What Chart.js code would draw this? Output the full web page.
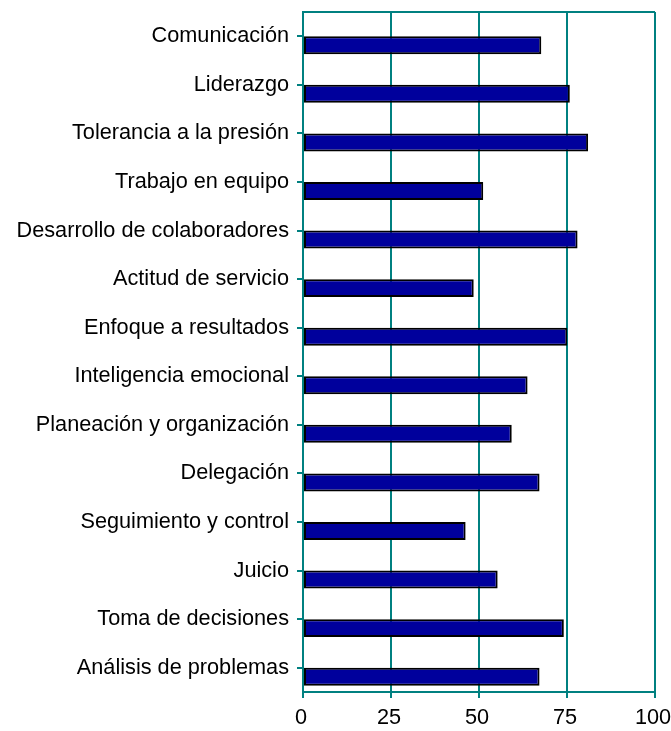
<!DOCTYPE html>
<html>
<head>
<meta charset="utf-8">
<script src="https://cdn.jsdelivr.net/npm/chart.js@4/dist/chart.umd.min.js"></script>
<style>
  html, body { margin: 0; padding: 0; background: #fff; }
  .wrap { width: 671px; height: 731px; position: relative; }
</style>
</head>
<body>
<div class="wrap"><canvas id="competencias"></canvas></div>
<script>
const categories = [
  'Comunicación', 'Liderazgo', 'Tolerancia a la presión', 'Trabajo en equipo',
  'Desarrollo de colaboradores', 'Actitud de servicio', 'Enfoque a resultados',
  'Inteligencia emocional', 'Planeación y organización', 'Delegación',
  'Seguimiento y control', 'Juicio', 'Toma de decisiones', 'Análisis de problemas'
];
const scores = [67.7, 75.8, 81.0, 51.2, 78.0, 48.5, 75.1, 63.8, 59.3, 67.2, 46.2, 55.3, 74.1, 67.2];
const emptySeries = categories.map(() => null);
const xTicks = [0, 25, 50, 75, 100];

const teal = '#008080';
const font = { family: '"Liberation Sans", Arial, sans-serif', size: 21.7 };

// draws the top edge of the plot frame
const frameTop = {
  id: 'frameTop',
  beforeDatasetsDraw(chart) {
    const { ctx, chartArea: a } = chart;
    ctx.save();
    ctx.strokeStyle = teal;
    ctx.lineWidth = 2;
    ctx.beginPath();
    ctx.moveTo(a.left, a.top);
    ctx.lineTo(a.right, a.top);
    ctx.stroke();
    ctx.restore();
  }
};

new Chart(document.getElementById('competencias'), {
  type: 'bar',
  data: {
    labels: categories,
    datasets: [
      { data: emptySeries },
      {
        data: scores,
        backgroundColor: '#00009C',
        borderColor: '#000000',
        borderWidth: 2,
        borderSkipped: false
      }
    ]
  },
  options: {
    indexAxis: 'y',
    responsive: true,
    maintainAspectRatio: false,
    animation: false,
    categoryPercentage: 0.74,
    barPercentage: 1,
    layout: { padding: { top: 12, left: 0, right: 0, bottom: 0 } },
    plugins: { legend: { display: false }, tooltip: { enabled: false } },
    scales: {
      x: {
        min: 0, max: 100,
        afterBuildTicks: s => { s.ticks = xTicks.map(v => ({ value: v })); },
        afterFit: s => { s.height = 39; s.paddingLeft = 0; s.paddingRight = 16; },
        grid: { color: teal, lineWidth: 2, tickLength: 6, tickColor: teal },
        border: { color: teal, width: 2 },
        ticks: { color: '#000', font, padding: 7, maxRotation: 0, labelOffset: -2 }
      },
      y: {
        afterFit: s => { s.width = 303; s.paddingTop = 0; s.paddingBottom = 0; },
        grid: { offset: false, drawOnChartArea: false, tickLength: 6, tickColor: teal, lineWidth: 2 },
        border: { color: teal, width: 2 },
        ticks: { color: '#000', font, padding: 8, autoSkip: false }
      }
    }
  },
  plugins: [frameTop]
});
</script>
</body>
</html>
